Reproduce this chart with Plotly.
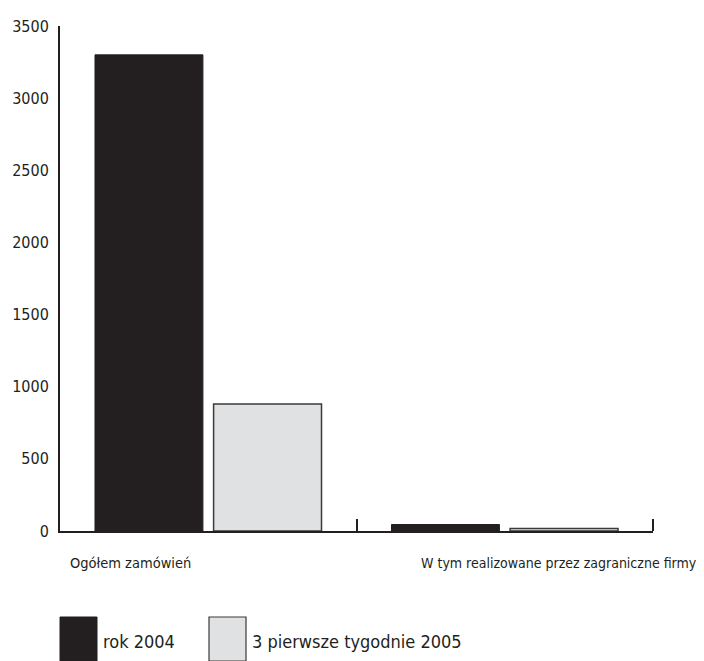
import plotly.graph_objects as go

categories = ["Ogółem zamówień", "W tym realizowane przez zagraniczne firmy"]
series_names = ["rok 2004", "3 pierwsze tygodnie 2005"]
values_2004 = [3300, 45]
values_2005 = [880, 18]
y_ticks = [0, 500, 1000, 1500, 2000, 2500, 3000, 3500]

FONT = "DejaVu Sans Condensed, Liberation Sans Narrow, sans-serif"
INK = "#231f20"
GRAY = "#e0e1e3"

OFF = 8  # page body margin
W, H = 704 - OFF, 661 - OFF
ML, MR, MT, MB = 60 - OFF, 51, 26 - OFF, 130
PW, PH = W - ML - MR, H - MT - MB


def px_x(x):
    return (x - OFF - ML) / PW


def px_y(y):
    return (H - MB - (y - OFF)) / PH


fig = go.Figure()
fig.add_trace(go.Bar(x=categories, y=values_2004, name=series_names[0],
                     marker=dict(color=INK, line=dict(color=INK, width=1))))
fig.add_trace(go.Bar(x=categories, y=values_2005, name=series_names[1],
                     marker=dict(color=GRAY, line=dict(color="#3a3a3a", width=1.5))))

annotations = [
    dict(text=categories[0], x=px_x(68), y=px_y(563), xref="paper", yref="paper",
         xanchor="left", yanchor="middle", showarrow=False,
         font=dict(family=FONT, size=14.5, color=INK)),
    dict(text=categories[1], x=px_x(699), y=px_y(563), xref="paper", yref="paper",
         xanchor="right", yanchor="middle", showarrow=False,
         font=dict(family=FONT, size=14, color=INK)),
    dict(text=series_names[0], x=px_x(101), y=px_y(641), xref="paper", yref="paper",
         xanchor="left", yanchor="middle", showarrow=False,
         font=dict(family=FONT, size=18, color=INK)),
    dict(text=series_names[1], x=px_x(250), y=px_y(641), xref="paper", yref="paper",
         xanchor="left", yanchor="middle", showarrow=False,
         font=dict(family=FONT, size=18, color=INK)),
]

shapes = [
    dict(type="rect", xref="paper", yref="paper", x0=px_x(60), x1=px_x(97),
         y0=px_y(617), y1=px_y(661), fillcolor=INK, line=dict(color=INK, width=1)),
    dict(type="rect", xref="paper", yref="paper", x0=px_x(209), x1=px_x(246),
         y0=px_y(617), y1=px_y(661), fillcolor=GRAY, line=dict(color="#3a3a3a", width=1.2)),
    # closing tick at the right end of the x axis
    dict(type="line", xref="paper", yref="paper", x0=1, x1=1,
         y0=0, y1=12 / PH, line=dict(color=INK, width=2)),
]

fig.update_layout(
    width=W, height=H,
    margin=dict(l=ML, r=MR, t=MT, b=MB, autoexpand=False),
    paper_bgcolor="white", plot_bgcolor="white",
    barmode="group", bargap=0.2, bargroupgap=0.09,
    showlegend=False,
    annotations=annotations,
    shapes=shapes,
    xaxis=dict(showticklabels=False, showline=True, linecolor=INK, linewidth=2,
               ticks="inside", tickson="boundaries", ticklen=12, tickwidth=2,
               tickcolor=INK, showgrid=False, zeroline=False, automargin=False),
    yaxis=dict(range=[0, 3500], tickvals=y_ticks, showline=True, linecolor=INK,
               linewidth=2, ticks="", showgrid=False, zeroline=False,
               ticklabelstandoff=6, automargin=False,
               tickfont=dict(family=FONT, size=16, color=INK)),
    font=dict(family=FONT, color=INK),
)

fig.write_html("out.html")
